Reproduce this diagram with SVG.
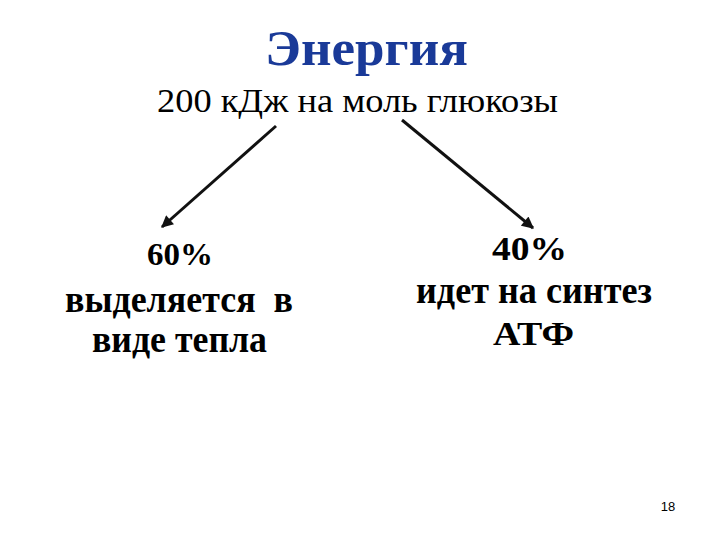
<svg xmlns="http://www.w3.org/2000/svg" width="720" height="540" viewBox="0 0 720 540">
<style>
.serif{font-family:"Liberation Serif","Times New Roman",serif;}
.title{font-size:51px;font-weight:bold;fill:#1a3a98;}
.sub{font-size:34px;fill:#000;}
.lbl{font-weight:bold;fill:#000;white-space:pre;}
.num{font-family:"Liberation Sans",Arial,sans-serif;font-size:13px;fill:#000;}
.conn{stroke:#111;stroke-width:3;fill:none;}
</style>
<defs>
<marker id="ah" viewBox="0 0 10 10" refX="9" refY="5" markerWidth="4.5" markerHeight="4" orient="auto" markerUnits="strokeWidth">
<path d="M0,0 L10,5 L0,10 z" fill="#111"/>
</marker>
</defs>
<rect width="720" height="540" fill="#fff"/>
<g id="title"><text class="serif title" x="366.5" y="65" text-anchor="middle" textLength="203" lengthAdjust="spacingAndGlyphs">Энергия</text></g>
<g id="source"><text class="serif sub" x="357.5" y="112" text-anchor="middle" textLength="401" lengthAdjust="spacingAndGlyphs">200 кДж на моль глюкозы</text></g>
<g id="connectors">
<line class="conn" x1="276" y1="126" x2="162" y2="227" marker-end="url(#ah)"/>
<line class="conn" x1="402" y1="120" x2="533" y2="228" marker-end="url(#ah)"/>
</g>
<g id="left">
<text class="serif lbl" x="180" y="265" font-size="32" text-anchor="middle" textLength="66" lengthAdjust="spacingAndGlyphs">60%</text>
<text class="serif lbl" x="179" y="312" font-size="37" text-anchor="middle" textLength="228" lengthAdjust="spacingAndGlyphs">выделяется  в</text>
<text class="serif lbl" x="179.5" y="352" font-size="37" text-anchor="middle" textLength="175" lengthAdjust="spacingAndGlyphs">виде тепла</text>
</g>
<g id="right">
<text class="serif lbl" x="529.5" y="260" font-size="33" text-anchor="middle" textLength="75" lengthAdjust="spacingAndGlyphs">40%</text>
<text class="serif lbl" x="534" y="303" font-size="38" text-anchor="middle" textLength="236" lengthAdjust="spacingAndGlyphs">идет на синтез</text>
<text class="serif lbl" x="533.5" y="345" font-size="33" text-anchor="middle" textLength="81" lengthAdjust="spacingAndGlyphs">АТФ</text>
</g>
<g id="page"><text class="num" x="668" y="511" text-anchor="middle">18</text></g>
</svg>
